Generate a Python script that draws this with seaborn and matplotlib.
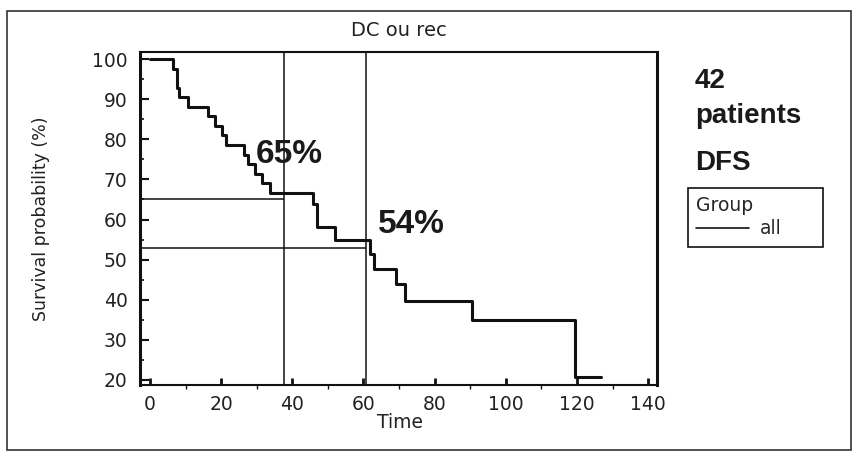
import matplotlib
matplotlib.use("Agg")
import matplotlib.pyplot as plt
from matplotlib.patches import Rectangle
from matplotlib.ticker import MultipleLocator
import pandas as pd
import seaborn as sns

# ---- data ----
time_months = [0, 6.6, 7.5, 8.2, 10.8, 16.4, 18.3, 20.2, 21.4, 26.4, 27.6, 29.5,
               31.4, 33.7, 45.7, 46.9, 52.0, 61.8, 63.0, 69.2, 71.7, 90.4, 119.5, 126.8]
survival_pct = [100, 97.6, 92.9, 90.5, 88.1, 85.7, 83.3, 81.0, 78.6, 76.2, 73.8, 71.4,
                69.0, 66.7, 63.8, 58.2, 55.0, 51.5, 47.6, 44.0, 39.8, 34.9, 20.8, 20.8]
group_name = "all"
ref_times = [37.7, 60.7]
ref_survival = [65.0, 52.8]
ref_labels = ["65%", "54%"]
x_ticks = [0, 20, 40, 60, 80, 100, 120, 140]
y_ticks = [20, 30, 40, 50, 60, 70, 80, 90, 100]
side_notes = ["42", "patients", "DFS"]
title_text = "DC ou rec"
x_label = "Time"
y_label = "Survival probability (%)"
legend_title = "Group"

df = pd.DataFrame({"Time": time_months, "Survival": survival_pct,
                   "Group": [group_name] * len(time_months)})

sns.set_theme(style="white")
plt.rcParams["font.family"] = ["DejaVu Sans"]
INK = "#111111"

W, H = 858, 457
fig = plt.figure(figsize=(W / 100, H / 100), dpi=100)
fig.patch.set_facecolor("white")

def fx(px):
    return px / W

def fy(py):
    return 1 - py / H

ax_l, ax_r, ax_t, ax_b = 140, 657, 52, 385
ax = fig.add_axes([fx(ax_l), fy(ax_b), (ax_r - ax_l) / W, (ax_b - ax_t) / H])

XMIN, XMAX = -2.8, 142.5
YMIN, YMAX = 18.75, 101.75

sns.lineplot(data=df, x="Time", y="Survival", hue="Group", palette=[INK],
             drawstyle="steps-post", linewidth=2.2, estimator=None, ax=ax)

for t, s in zip(ref_times, ref_survival):
    ax.axvline(t, color=INK, lw=1.1, zorder=1)
    ax.hlines(s, XMIN, t, color=INK, lw=1.1, zorder=1)

label_x = [29.8, 64.1]
label_y = [74.1, 56.6]
for lx, ly, txt in zip(label_x, label_y, ref_labels):
    ax.text(lx, ly, txt, fontsize=24, fontweight="bold", family="Liberation Sans",
            color="#1a1a1a", va="baseline", ha="left")

ax.set_xlim(XMIN, XMAX)
ax.set_ylim(YMIN, YMAX)
ax.set_xticks(x_ticks)
ax.set_yticks(y_ticks)
ax.xaxis.set_minor_locator(MultipleLocator(10))
ax.yaxis.set_minor_locator(MultipleLocator(5))
ax.tick_params(axis="y", which="major", direction="in", length=6.5, width=1.5,
               color=INK, labelsize=13.5, pad=9, labelcolor="#222222", left=True)
ax.tick_params(axis="y", which="minor", direction="in", length=3, width=1.2,
               color=INK, left=True)
ax.tick_params(axis="x", which="major", direction="in", length=5, width=2,
               color=INK, labelsize=13.5, pad=7, labelcolor="#222222", bottom=True)
ax.tick_params(axis="x", which="minor", direction="out", length=3, width=1,
               color=INK, bottom=True)

for side, lw in [("left", 2.2), ("right", 2.2), ("bottom", 1.5), ("top", 1.5)]:
    ax.spines[side].set_visible(True)
    ax.spines[side].set_color(INK)
    ax.spines[side].set_linewidth(lw)

ax.set_title(title_text, fontsize=14, color="#222222", pad=11.5)
ax.set_xlabel(x_label, fontsize=13.5, color="#222222")
ax.set_ylabel(y_label, fontsize=12.5, color="#222222")
ax.xaxis.set_label_coords((400 - ax_l) / (ax_r - ax_l), -(413 - ax_b) / (ax_b - ax_t))
ax.yaxis.set_label_coords(-(ax_l - 50) / (ax_r - ax_l), 0.5)

handles, labels = ax.get_legend_handles_labels()
leg = ax.legend(handles=handles, labels=labels, title=legend_title,
                loc="upper left", mode="expand", alignment="left",
                bbox_to_anchor=(fx(688), fy(249), (823 - 688) / W, (249 - 188) / H),
                bbox_transform=fig.transFigure, borderaxespad=0,
                fontsize=13.5, title_fontsize=13.5, handlelength=2.8,
                handletextpad=0.6, borderpad=0.45, labelspacing=0.2,
                frameon=True, fancybox=False, framealpha=1, edgecolor=INK)
leg.get_frame().set_linewidth(1.2)
for ln in leg.get_lines():
    ln.set_linewidth(1.2)

baselines = [88, 123, 170]
for txt, by in zip(side_notes, baselines):
    fig.text(fx(695), fy(by), txt, fontsize=20, fontweight="bold",
             family="Liberation Sans", color="#1a1a1a", va="baseline", ha="left")

fig.patches.append(Rectangle((fx(7), fy(450)), (851 - 7) / W, (450 - 11) / H,
                             transform=fig.transFigure, fill=False,
                             edgecolor="#333333", linewidth=1.2))

fig.savefig("out.png", dpi=100, facecolor="white")
